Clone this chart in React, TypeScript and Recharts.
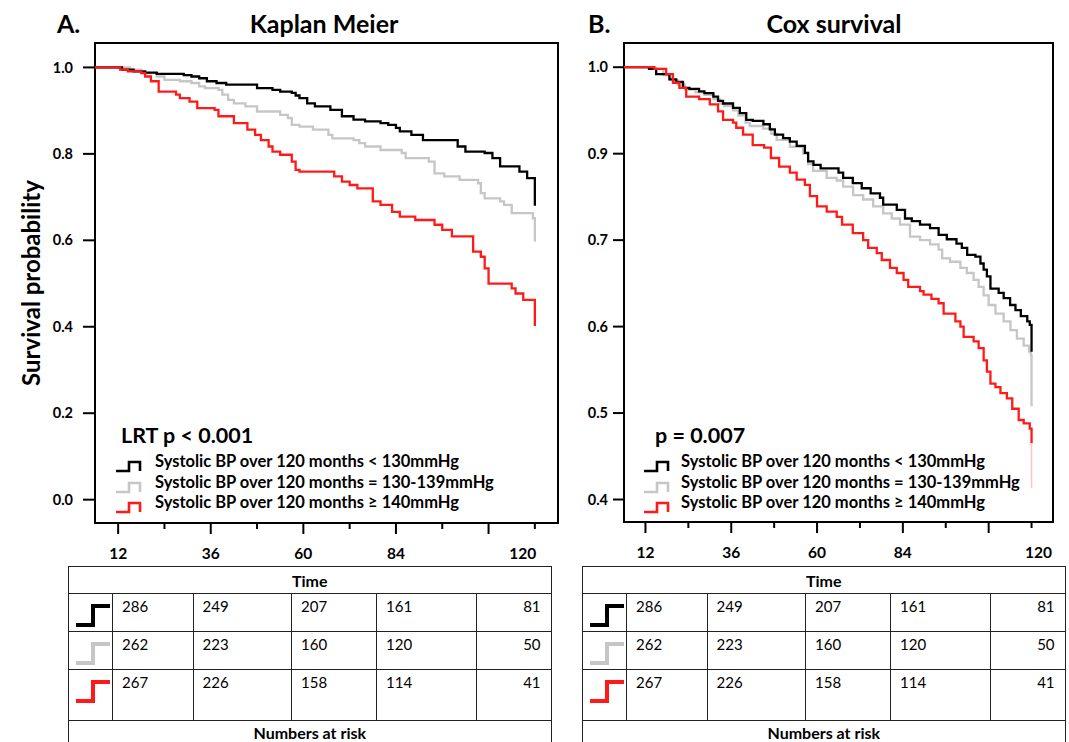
import React from 'react';
import { LineChart, Line, XAxis, YAxis, ReferenceArea, Legend } from 'recharts';

const FONT = 'Lato, "Open Sans", sans-serif';

// time axis (months)
const timeTicks = [12, 24, 36, 48, 60, 72, 84, 96, 108, 120];
const majorTimeTicks = [12, 36, 60, 84, 108];
const labelledTimeTicks = [12, 36, 60, 84, 120];

// survival axes
const kmTicks = [0, 0.2, 0.4, 0.6, 0.8, 1.0];
const coxTicks = [0.5, 0.6, 0.7, 0.8, 0.9, 1.0];
const coxTickLabels = ['0.4', '0.5', '0.6', '0.7', '0.9', '1.0'];

const groupNames = [
  'Systolic BP over 120 months < 130mmHg',
  'Systolic BP over 120 months = 130-139mmHg',
  'Systolic BP over 120 months \u2265 140mmHg',
];
const groupColors = ['#000000', '#c6c6c6', '#ff1a1a'];

// Kaplan Meier step curves: [month, survival]
const kmBlack = [
  [6, 1.0], [13, 0.995], [16, 0.991], [19, 0.988], [22, 0.985], [29, 0.982], [31, 0.979], [33, 0.975],
  [35, 0.968], [37.5, 0.964], [40, 0.96], [48, 0.952], [52, 0.948], [54, 0.944], [57, 0.941], [58, 0.935],
  [59, 0.929], [61, 0.917], [63, 0.91], [67, 0.902], [70, 0.887], [73, 0.879], [76, 0.875], [80, 0.871],
  [82, 0.867], [84, 0.86], [85, 0.852], [88, 0.844], [91, 0.832], [100, 0.817], [102, 0.805], [107, 0.802],
  [109, 0.79], [111, 0.771], [116, 0.759], [118, 0.744], [120, 0.68],
];
const kmGray = [
  [6, 1.0], [15, 0.995], [18, 0.987], [22, 0.979], [24, 0.971], [28, 0.968], [31, 0.964], [33, 0.956],
  [34.5, 0.952], [38, 0.948], [39, 0.937], [40.5, 0.925], [42, 0.917], [45, 0.91], [48, 0.898], [54, 0.89],
  [56, 0.883], [57, 0.867], [59, 0.863], [62.5, 0.856], [66.5, 0.844], [67.5, 0.836], [73, 0.832],
  [74.5, 0.825], [76, 0.817], [80, 0.809], [85.5, 0.802], [86.5, 0.79], [92.5, 0.782], [94, 0.755],
  [96.5, 0.748], [100.5, 0.74], [105.3, 0.732], [106, 0.709], [107, 0.697], [111, 0.69], [112, 0.682],
  [114, 0.663], [119.5, 0.651], [120, 0.597],
];
const kmRed = [
  [6, 1.0], [12.5, 0.995], [14.5, 0.991], [18, 0.987], [19, 0.979], [20.5, 0.968], [22.5, 0.944], [27, 0.937],
  [28, 0.929], [30.5, 0.921], [32.5, 0.906], [37, 0.902], [38, 0.887], [42, 0.871], [45.5, 0.856],
  [47.5, 0.844], [49, 0.832], [51, 0.817], [52, 0.805], [54, 0.798], [57, 0.782], [58, 0.763], [59, 0.759],
  [68, 0.748], [70, 0.736], [72, 0.728], [74, 0.72], [78, 0.69], [80, 0.682], [83, 0.666], [85, 0.655],
  [89, 0.647], [94, 0.636], [96, 0.624], [98.5, 0.609], [104, 0.574], [106, 0.562], [107, 0.535],
  [108, 0.5], [114, 0.489], [115, 0.477], [117, 0.462], [120, 0.402],
];

// Cox survival step curves: [month, survival]
const coxBlack = [
  [6, 1.0], [13, 0.998], [15, 0.992], [18.7, 0.986], [20.6, 0.983], [22.5, 0.976], [24.3, 0.975], [27, 0.972],
  [28.5, 0.97], [31, 0.966], [32.3, 0.961], [33.7, 0.958], [36.5, 0.953], [38.4, 0.947], [40.2, 0.939],
  [42, 0.938], [45, 0.934], [46.8, 0.928], [48.2, 0.922], [50.5, 0.918], [52.4, 0.914], [54.3, 0.909],
  [56.6, 0.901], [57.5, 0.891], [59, 0.887], [61, 0.883], [66, 0.878], [67.3, 0.872], [70, 0.866],
  [72.5, 0.86], [75, 0.854], [77.6, 0.849], [78.5, 0.841], [82.3, 0.835], [84.6, 0.825], [86.5, 0.822],
  [88.8, 0.818], [91.6, 0.814], [94, 0.806], [96.3, 0.801], [99, 0.796], [100.5, 0.791], [102, 0.783],
  [104.3, 0.781], [105.7, 0.773], [106.6, 0.766], [107.5, 0.758], [108.5, 0.744], [110.8, 0.739],
  [112.2, 0.733], [114, 0.725], [115.5, 0.719], [117, 0.712], [118.8, 0.706], [119.5, 0.702], [120, 0.671],
];
const coxGray = [
  [6, 1.0], [14, 0.998], [17, 0.991], [19, 0.985], [21, 0.98], [23, 0.974], [26, 0.971], [28.5, 0.968],
  [31, 0.963], [32.8, 0.958], [34, 0.955], [36.5, 0.95], [38, 0.944], [40, 0.936], [41.2, 0.932],
  [44.9, 0.929], [47.2, 0.923], [48.7, 0.916], [52.4, 0.908], [56.1, 0.9], [57.5, 0.888], [58.9, 0.88],
  [62.7, 0.872], [65.5, 0.869], [67.3, 0.862], [70.1, 0.852], [72.9, 0.847], [75.7, 0.839], [78.5, 0.831],
  [80.9, 0.825], [83.2, 0.818], [86, 0.804], [88.8, 0.8], [91.6, 0.795], [94, 0.789], [95, 0.779],
  [97.2, 0.775], [100.1, 0.768], [101.9, 0.762], [103.8, 0.754], [105.2, 0.746], [106.6, 0.736],
  [108, 0.725], [109.9, 0.715], [112.2, 0.706], [114.1, 0.696], [115.9, 0.686], [117.8, 0.678],
  [119.3, 0.671], [119.8, 0.667], [120, 0.608],
];
const coxRed = [
  [6, 1.0], [14.5, 0.998], [17.8, 0.992], [19.7, 0.982], [21.5, 0.976], [23.4, 0.966], [27, 0.963], [30, 0.957],
  [32.3, 0.949], [33.7, 0.939], [36.5, 0.936], [37.4, 0.93], [39.3, 0.922], [42, 0.91], [45.2, 0.907],
  [47.1, 0.895], [49.4, 0.885], [52.4, 0.878], [54.3, 0.87], [56.6, 0.864], [58, 0.851], [60, 0.839],
  [62.7, 0.833], [65.5, 0.827], [67, 0.818], [70, 0.808], [72.9, 0.8], [74.3, 0.791], [76.7, 0.785],
  [78.1, 0.777], [80.4, 0.768], [82.3, 0.762], [84.2, 0.754], [85.5, 0.746], [88.8, 0.741], [89.8, 0.737],
  [92, 0.732], [94, 0.727], [95.4, 0.715], [98.7, 0.706], [100.1, 0.7], [101, 0.688], [103.8, 0.683],
  [105.2, 0.675], [106.6, 0.661], [107.5, 0.648], [108.5, 0.634], [109.9, 0.63], [111.3, 0.623],
  [113.1, 0.617], [114.6, 0.605], [116.4, 0.592], [117.8, 0.588], [119.5, 0.582], [120, 0.565],
];
// faint tail of the red Cox curve
const coxRedTail = [[120, 0.565], [120, 0.513]];

// numbers at risk
const riskBlack = [286, 249, 207, 161, 81];
const riskGray = [262, 223, 160, 120, 50];
const riskRed = [267, 226, 158, 114, 41];

const toPoints = (pairs: number[][]) => pairs.map(([t, s]) => ({ t, s }));

const StepIcon = ({ color }: { color: string }) => (
  <svg width={27} height={13} style={{ marginTop: 9, flexShrink: 0 }}>
    <path d="M1,11 H14 V2 H25 V11" stroke={color} strokeWidth={2.6} fill="none" />
  </svg>
);

const LegendBox = ({ pText, pPad, gap }: { pText: string; pPad: number; gap: number }) => (
  <div style={{ fontFamily: FONT, color: '#000' }}>
    <div style={{ fontSize: 21.5, fontWeight: 700, lineHeight: '26px', paddingLeft: pPad, marginBottom: 3 }}>{pText}</div>
    {groupNames.map((n, i) => (
      <div key={n} style={{ display: 'flex', alignItems: 'flex-start', height: 20.5 }}>
        <StepIcon color={groupColors[i]} />
        <span style={{ marginLeft: gap, fontSize: 16.5, fontWeight: 700, lineHeight: '20.5px', whiteSpace: 'nowrap' }}>{n}</span>
      </div>
    ))}
  </div>
);

const TimeTick = (props: any) => {
  const { x, y, payload, shift } = props;
  const v = payload.value;
  const major = majorTimeTicks.includes(v);
  const show = labelledTimeTicks.includes(v);
  return (
    <g>
      <line x1={x} x2={x} y1={y} y2={y + (major ? 11 : 6)} stroke="#000" strokeWidth={2} />
      {show && (
        <text x={x + (v === 120 ? shift : 0)} y={y + 30} textAnchor="middle" dominantBaseline="central"
          fontFamily={FONT} fontSize={15.5} fontWeight={700} fill="#000">{v}</text>
      )}
    </g>
  );
};

const YTitle = (props: any) => {
  const { viewBox } = props;
  const cx = viewBox.x + 15;
  const cy = viewBox.y + viewBox.height / 2;
  return (
    <text x={cx} y={cy} transform={`rotate(-90 ${cx} ${cy})`} textAnchor="middle" dominantBaseline="central"
      fontFamily={FONT} fontSize={24} fontWeight={700} fill="#000">Survival probability</text>
  );
};

type PanelProps = {
  curves: number[][][];
  tail?: number[][];
  width: number;
  margin: { top: number; right: number; bottom: number; left: number };
  yWidth: number;
  yDomain: [number, number];
  yTicks: number[];
  yFormat: (v: number) => string;
  yTickSize: number;
  yTickMargin: number;
  shift120: number;
  pText: string;
  legendLeft: number;
  pPad: number;
  gap: number;
  withTitle?: boolean;
};

const drawOrder = [1, 0, 2];

const SurvivalPanel = (p: PanelProps) => (
  <LineChart width={p.width} height={580} margin={p.margin}>
    <XAxis dataKey="t" type="number" domain={[6, 126]} ticks={timeTicks} interval={0} allowDataOverflow
      axisLine={false} tickLine={false} tickSize={0} tickMargin={0} height={40}
      tick={(tp: any) => <TimeTick {...tp} shift={p.shift120} />} />
    <YAxis type="number" domain={p.yDomain} ticks={p.yTicks} interval={0} allowDataOverflow width={p.yWidth}
      axisLine={false} tickSize={p.yTickSize} tickMargin={p.yTickMargin}
      tickLine={{ stroke: '#000', strokeWidth: 2 }}
      tick={{ fill: '#000', fontSize: 14.5, fontWeight: 700, fontFamily: FONT }}
      tickFormatter={p.yFormat}
      label={p.withTitle ? <YTitle /> : undefined} />
    <ReferenceArea x1={6} x2={126} y1={p.yDomain[0]} y2={p.yDomain[1]} stroke="#000" strokeWidth={2}
      fill="#fff" fillOpacity={0} ifOverflow="visible" />
    {drawOrder.map((i) => (
      <Line key={groupNames[i]} data={toPoints(p.curves[i])} dataKey="s" name={groupNames[i]} type="stepAfter"
        stroke={groupColors[i]} strokeWidth={2.3} dot={false} activeDot={false} isAnimationActive={false} />
    ))}
    {p.tail && (
      <Line data={toPoints(p.tail)} dataKey="s" type="linear" stroke="#ffc4c4" strokeWidth={1.5} dot={false}
        legendType="none" isAnimationActive={false} />
    )}
    <Legend layout="vertical" align="center" verticalAlign="middle"
      wrapperStyle={{ left: p.legendLeft, top: 422, width: 'auto', height: 'auto' }}
      content={() => <LegendBox pText={p.pText} pPad={p.pPad} gap={p.gap} />} />
  </LineChart>
);

const colWidths = [44, 80.5, 98.5, 85, 100, 74.5];
const riskRows = [riskBlack, riskGray, riskRed];
const rowHeights = [38, 38, 51];
const cellBorder = '1px solid #222';

const RiskTable = ({ left }: { left: number }) => (
  <table style={{ position: 'absolute', left, top: 566, borderCollapse: 'collapse', tableLayout: 'fixed',
    width: colWidths.reduce((a, b) => a + b, 0), fontFamily: FONT, color: '#000' }}>
    <colgroup>
      {colWidths.map((w, i) => <col key={i} style={{ width: w }} />)}
    </colgroup>
    <tbody>
      <tr style={{ height: 27 }}>
        <td colSpan={6} style={{ border: cellBorder, textAlign: 'center', fontWeight: 700, fontSize: 16, padding: 0 }}>Time</td>
      </tr>
      {riskRows.map((row, r) => (
        <tr key={r} style={{ height: rowHeights[r] }}>
          <td style={{ border: cellBorder, padding: 0, verticalAlign: 'top' }}>
            <svg width={43} height={28} style={{ display: 'block', marginTop: 8 }}>
              <path d="M7,23 H24 V4 H41" stroke={groupColors[r]} strokeWidth={4} fill="none" />
            </svg>
          </td>
          {row.map((n, c) => (
            <td key={c} style={{ border: cellBorder, verticalAlign: 'top', fontSize: 15, lineHeight: '18px',
              paddingTop: 3, paddingLeft: c === 4 ? 0 : 9, paddingRight: c === 4 ? 10 : 0,
              textAlign: c === 4 ? 'right' : 'left' }}>{n}</td>
          ))}
        </tr>
      ))}
      <tr style={{ height: 24 }}>
        <td colSpan={6} style={{ border: cellBorder, textAlign: 'center', fontWeight: 700, fontSize: 16, padding: 0 }}>Numbers at risk</td>
      </tr>
    </tbody>
  </table>
);

const titleStyle: React.CSSProperties = {
  position: 'absolute', top: 8, fontFamily: FONT, fontWeight: 700, fontSize: 25, lineHeight: '30px', color: '#000',
};

export default function App() {
  const coxFormat = (v: number) => {
    const i = coxTicks.findIndex((t) => Math.abs(t - v) < 1e-6);
    return i >= 0 ? coxTickLabels[i] : '';
  };
  return (
    <div style={{ position: 'absolute', left: 0, top: 0, width: 1069, height: 742, overflow: 'hidden', background: '#fff' }}>
      <div style={{ ...titleStyle, left: 57 }}>A.</div>
      <div style={{ ...titleStyle, left: 224, width: 200, textAlign: 'center' }}>Kaplan Meier</div>
      <div style={{ ...titleStyle, left: 588 }}>B.</div>
      <div style={{ ...titleStyle, left: 734, width: 200, textAlign: 'center' }}>Cox survival</div>

      <div style={{ position: 'absolute', left: 0, top: 0 }}>
        <SurvivalPanel
          curves={[kmBlack, kmGray, kmRed]}
          width={570}
          margin={{ top: 43, right: 12, bottom: 17, left: 15 }}
          yWidth={80}
          yDomain={[-0.054, 1.0565]}
          yTicks={kmTicks}
          yFormat={(v) => v.toFixed(1)}
          yTickSize={12}
          yTickMargin={10}
          shift120={-12}
          pText="LRT p < 0.001"
          legendLeft={115}
          pPad={6}
          gap={13}
          withTitle
        />
      </div>
      <div style={{ position: 'absolute', left: 560, top: 0 }}>
        <SurvivalPanel
          curves={[coxBlack, coxGray, coxRed]}
          tail={coxRedTail}
          width={509}
          margin={{ top: 43, right: 16, bottom: 18, left: 4 }}
          yWidth={60}
          yDomain={[0.474, 1.028]}
          yTicks={coxTicks}
          yFormat={coxFormat}
          yTickSize={11}
          yTickMargin={5}
          shift120={7}
          pText="p = 0.007"
          legendLeft={83}
          pPad={12}
          gap={11}
        />
      </div>

      <RiskTable left={68} />
      <RiskTable left={582} />
    </div>
  );
}
